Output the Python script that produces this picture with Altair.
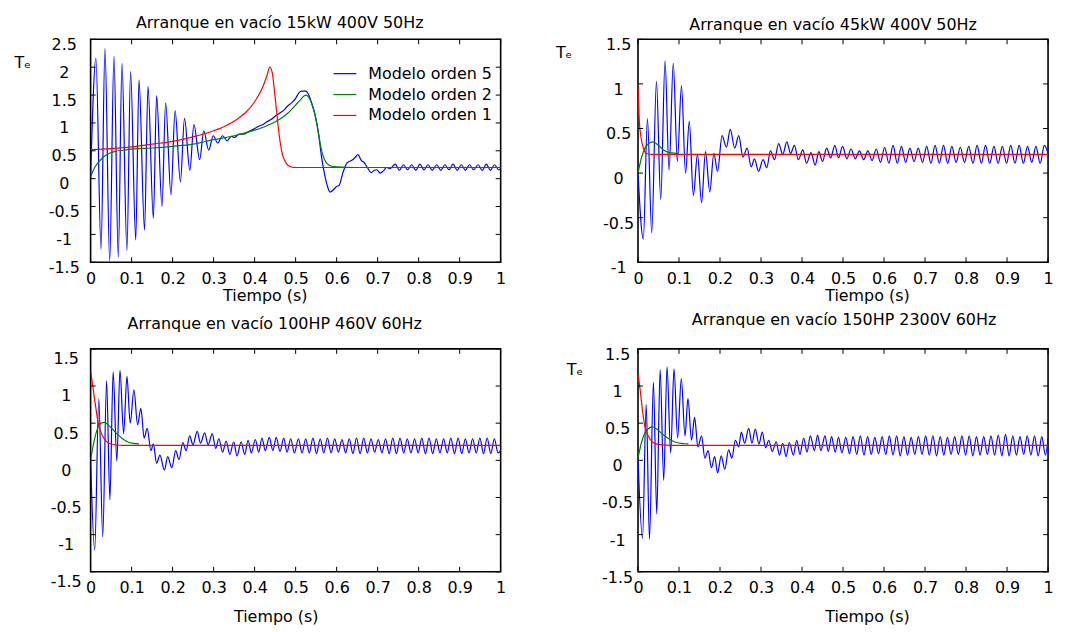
import altair as alt
import pandas as pd

FONT = "DejaVu Sans"
W, H = 412, 224
MODELS = ["Modelo orden 5", "Modelo orden 2", "Modelo orden 1"]
MODEL_COLORS = ["#0000ff", "#008000", "#ff0000"]
X_TICKS = [0, 0.1, 0.2, 0.3, 0.4, 0.5, 0.6, 0.7, 0.8, 0.9, 1]
Y_TICKS_P1 = [-1.5, -1, -0.5, 0, 0.5, 1, 1.5, 2, 2.5]
Y_TICKS_P2 = [-1, -0.5, 0, 0.5, 1, 1.5]
Y_TICKS_P34 = [-1.5, -1, -0.5, 0, 0.5, 1, 1.5]

TITLES = ["Arranque en vacío 15kW 400V 50Hz", "Arranque en vacío 45kW 400V 50Hz",
          "Arranque en vacío 100HP 460V 60Hz", "Arranque en vacío 150HP 2300V 60Hz"]

# ---------------- Panel 1: 15kW 400V 50Hz ----------------
P1_BLUE_T = [0.000, 0.013, 0.0255, 0.035, 0.0466, 0.057, 0.0675, 0.0765, 0.0886, 0.0975, 0.110, 0.118,
             0.1315, 0.140, 0.153, 0.161, 0.174, 0.183, 0.196, 0.206, 0.219, 0.229, 0.242, 0.252, 0.266,
             0.276, 0.288, 0.299, 0.310, 0.322, 0.333, 0.343, 0.352, 0.362, 0.372, 0.385, 0.400, 0.410,
             0.420, 0.430, 0.440, 0.450, 0.460, 0.470, 0.480, 0.490, 0.500, 0.508, 0.515, 0.525, 0.532,
             0.540, 0.548, 0.556, 0.563, 0.570, 0.577, 0.584, 0.592, 0.600, 0.606, 0.615, 0.625, 0.637,
             0.645, 0.652, 0.660, 0.667, 0.675, 0.684, 0.692, 0.698, 0.706, 0.714, 0.722, 0.730]
P1_BLUE_V = [0.03, 2.16, -1.27, 2.34, -1.48, 2.20, -1.41, 2.07, -1.29, 1.92, -1.10, 1.77,
             -0.92, 1.65, -0.71, 1.49, -0.50, 1.36, -0.29, 1.22, -0.06, 1.08, 0.15, 0.97, 0.34,
             0.86, 0.51, 0.77, 0.64, 0.77, 0.68, 0.76, 0.74, 0.80, 0.80, 0.84, 0.90, 0.94,
             0.97, 1.02, 1.06, 1.12, 1.17, 1.22, 1.30, 1.36, 1.44, 1.54, 1.57, 1.57, 1.50,
             1.33, 1.12, 0.80, 0.40, 0.10, -0.12, -0.24, -0.20, -0.14, -0.12, 0.10, 0.28, 0.33,
             0.38, 0.43, 0.33, 0.29, 0.20, 0.11, 0.15, 0.16, 0.10, 0.14, 0.20, 0.18]
P1_HIGH_T = [0.743, 0.763, 0.783, 0.803, 0.823, 0.844, 0.864, 0.884, 0.904, 0.924, 0.945, 0.965, 0.985]
P1_HIGH_V = [0.26, 0.25, 0.25, 0.26, 0.25, 0.25, 0.25, 0.26, 0.25, 0.25, 0.25, 0.26, 0.25]
P1_LOW_T = [0.753, 0.773, 0.793, 0.813, 0.833, 0.854, 0.874, 0.894, 0.914, 0.934, 0.955, 0.975, 0.995, 1.0]
P1_LOW_V = [0.15, 0.16, 0.15, 0.16, 0.15, 0.15, 0.16, 0.15, 0.15, 0.16, 0.15, 0.15, 0.16, 0.18]
P1_GREEN_T = [0, 0.01, 0.02, 0.03, 0.045, 0.06, 0.08, 0.1, 0.15, 0.2, 0.25, 0.3, 0.35, 0.4, 0.43, 0.46,
              0.48, 0.5, 0.51, 0.525, 0.535, 0.545, 0.555, 0.562, 0.57, 0.58, 0.59, 0.6, 0.65, 1.0]
P1_GREEN_V = [0.03, 0.2, 0.3, 0.38, 0.45, 0.49, 0.51, 0.53, 0.55, 0.58, 0.62, 0.70, 0.77, 0.87, 0.95, 1.06,
              1.17, 1.32, 1.40, 1.50, 1.42, 1.22, 0.85, 0.55, 0.35, 0.25, 0.22, 0.21, 0.2, 0.2]
P1_RED_T = [0, 0.05, 0.1, 0.15, 0.2, 0.25, 0.3, 0.33, 0.36, 0.38, 0.4, 0.41, 0.42, 0.43, 0.437, 0.443,
            0.448, 0.453, 0.458, 0.463, 0.468, 0.475, 0.483, 0.49, 0.5, 1.0]
P1_RED_V = [0.52, 0.54, 0.57, 0.62, 0.67, 0.75, 0.86, 0.95, 1.08, 1.2, 1.38, 1.5, 1.65, 1.85, 2.0, 1.9,
            1.6, 1.25, 0.9, 0.62, 0.43, 0.30, 0.23, 0.21, 0.2, 0.2]

# ---------------- Panel 2: 45kW 400V 50Hz ----------------
P2_BLUE_T = [0.000, 0.013, 0.023, 0.0335, 0.045, 0.0554, 0.066, 0.0757, 0.086, 0.096, 0.106, 0.116,
             0.125, 0.135, 0.145, 0.155, 0.1646, 0.175, 0.185, 0.194, 0.205, 0.2156, 0.225, 0.236,
             0.2456, 0.256, 0.266, 0.276, 0.284, 0.294, 0.305, 0.314, 0.323, 0.333, 0.343, 0.353,
             0.363, 0.372, 0.3815, 0.391, 0.402, 0.411, 0.422, 0.432, 0.441, 0.450, 0.460, 0.470,
             0.480, 0.489, 0.499]
P2_BLUE_V = [0.00, -0.74, 0.61, -0.67, 1.03, -0.30, 1.26, 0.03, 1.23, 0.13, 0.98, 0.00,
             0.58, -0.25, 0.21, -0.33, 0.24, -0.21, 0.22, 0.02, 0.42, 0.29, 0.49, 0.28,
             0.42, 0.18, 0.28, 0.07, 0.16, 0.02, 0.15, 0.06, 0.25, 0.15, 0.33, 0.21,
             0.35, 0.22, 0.31, 0.15, 0.26, 0.11, 0.23, 0.09, 0.24, 0.13, 0.28, 0.17,
             0.31, 0.17, 0.30]
P2_HIGH_T = [0.5195, 0.540, 0.5605, 0.581, 0.6015, 0.622, 0.6425, 0.663, 0.6835, 0.704, 0.7245, 0.745,
             0.7655, 0.786, 0.8065, 0.827, 0.8475, 0.868, 0.8885, 0.909, 0.9295, 0.950, 0.9705, 0.991]
P2_HIGH_V = [0.27, 0.25, 0.25, 0.27, 0.29, 0.31, 0.30, 0.28, 0.28, 0.30, 0.31, 0.31,
             0.30, 0.29, 0.30, 0.31, 0.31, 0.30, 0.30, 0.31, 0.31, 0.30, 0.30, 0.31]
P2_LOW_T = [0.5093, 0.5298, 0.5503, 0.5708, 0.5913, 0.6118, 0.6323, 0.6528, 0.6733, 0.6938, 0.7143,
            0.7348, 0.7553, 0.7758, 0.7963, 0.8168, 0.8373, 0.8578, 0.8783, 0.8988, 0.9193, 0.9398,
            0.9603, 0.9808, 1.0]
P2_LOW_V = [0.16, 0.16, 0.15, 0.14, 0.12, 0.11, 0.11, 0.12, 0.13, 0.12, 0.11,
            0.11, 0.11, 0.12, 0.12, 0.11, 0.11, 0.11, 0.11, 0.11, 0.11, 0.11,
            0.12, 0.11, 0.22]
P2_GREEN_T = [0, 0.009, 0.017, 0.029, 0.037, 0.05, 0.062, 0.078, 0.1]
P2_GREEN_V = [0.0, 0.18, 0.28, 0.34, 0.35, 0.31, 0.26, 0.23, 0.22]
P2_RED_T = [0, 0.0015, 0.003, 0.007, 0.013, 0.021, 0.035, 1.0]
P2_RED_V = [1.0, 0.8, 0.6, 0.41, 0.28, 0.22, 0.21, 0.21]

# ---------------- Panel 3: 100HP 460V 60Hz ----------------
P3_BLUE_T = [0.000, 0.010, 0.020, 0.0296, 0.039, 0.047, 0.055, 0.064, 0.0716, 0.0805, 0.0886, 0.0966,
             0.1056, 0.1146, 0.1226, 0.1306, 0.138, 0.147, 0.153, 0.161, 0.169, 0.180, 0.188, 0.198,
             0.2075, 0.2156, 0.225, 0.233, 0.2415, 0.2496, 0.260, 0.268, 0.278, 0.2868, 0.2966, 0.305,
             0.3127, 0.322, 0.3305, 0.3395, 0.349, 0.357, 0.367, 0.3758, 0.384, 0.392, 0.4017, 0.410,
             0.418, 0.426, 0.4357, 0.4445, 0.4527, 0.462, 0.471, 0.479, 0.488, 0.497]
P3_BLUE_V = [0.00, -1.21, 0.83, -1.03, 1.07, -0.53, 1.19, -0.01, 1.21, 0.36, 1.13, 0.50,
             0.95, 0.48, 0.70, 0.30, 0.43, 0.13, 0.22, -0.04, 0.07, -0.13, 0.05, -0.10,
             0.13, 0.01, 0.24, 0.13, 0.33, 0.21, 0.39, 0.23, 0.37, 0.21, 0.36, 0.16,
             0.29, 0.11, 0.26, 0.08, 0.25, 0.06, 0.25, 0.08, 0.27, 0.10, 0.28, 0.11,
             0.30, 0.13, 0.31, 0.13, 0.31, 0.12, 0.30, 0.11, 0.29, 0.10]
P34_HIGH_T = [0.5068, 0.5245, 0.5422, 0.5599, 0.5776, 0.5953, 0.6130, 0.6307, 0.6484, 0.6661, 0.6838,
              0.7015, 0.7192, 0.7369, 0.7546, 0.7723, 0.7900, 0.8077, 0.8254, 0.8431, 0.8608, 0.8785,
              0.8962, 0.9139, 0.9316, 0.9493, 0.9670, 0.9847]
P34_LOW_T = [0.5157, 0.5334, 0.5511, 0.5688, 0.5865, 0.6042, 0.6219, 0.6396, 0.6573, 0.6750, 0.6927,
             0.7104, 0.7281, 0.7458, 0.7635, 0.7812, 0.7989, 0.8166, 0.8343, 0.8520, 0.8697, 0.8874,
             0.9051, 0.9228, 0.9405, 0.9582, 0.9759, 0.9936, 1.0]
P3_HIGH_V = [0.29, 0.29, 0.30, 0.29, 0.30, 0.29, 0.28, 0.29, 0.30, 0.30, 0.29, 0.28, 0.29, 0.30,
             0.30, 0.29, 0.29, 0.30, 0.30, 0.29, 0.29, 0.30, 0.30, 0.29, 0.29, 0.30, 0.30, 0.29]
P3_LOW_V = [0.10, 0.10, 0.09, 0.10, 0.10, 0.11, 0.10, 0.09, 0.09, 0.10, 0.11, 0.10, 0.09, 0.09,
            0.10, 0.10, 0.10, 0.09, 0.09, 0.10, 0.10, 0.09, 0.09, 0.10, 0.10, 0.09, 0.09, 0.10, 0.13]
P3_GREEN_T = [0, 0.009, 0.017, 0.0255, 0.034, 0.046, 0.062, 0.078, 0.094, 0.118]
P3_GREEN_V = [0.01, 0.27, 0.43, 0.50, 0.51, 0.46, 0.37, 0.29, 0.24, 0.22]
P3_RED_T = [0, 0.004, 0.009, 0.013, 0.017, 0.022, 0.029, 0.036, 0.045, 0.06, 0.08, 1.0]
P3_RED_V = [1.2, 1.05, 0.85, 0.7, 0.55, 0.43, 0.33, 0.27, 0.23, 0.21, 0.2, 0.2]

# ---------------- Panel 4: 150HP 2300V 60Hz ----------------
P4_BLUE_T = [0.000, 0.011, 0.020, 0.028, 0.0376, 0.0457, 0.054, 0.0627, 0.0708, 0.0797, 0.0878, 0.0966,
             0.1056, 0.1146, 0.1218, 0.1306, 0.138, 0.146, 0.155, 0.163, 0.171, 0.179, 0.187, 0.194,
             0.203, 0.2116, 0.221, 0.229, 0.2374, 0.2456, 0.252, 0.260, 0.270, 0.278, 0.286, 0.295,
             0.303, 0.3111, 0.319, 0.3273, 0.337, 0.345, 0.353, 0.3612, 0.369, 0.379, 0.387, 0.395,
             0.404, 0.412, 0.4204, 0.430, 0.438, 0.446, 0.4559, 0.464, 0.472, 0.481, 0.489, 0.4972]
P4_BLUE_V = [0.03, -1.05, 0.75, -1.06, 1.05, -0.72, 1.22, -0.27, 1.26, 0.10, 1.23, 0.30,
             1.10, 0.33, 0.83, 0.27, 0.58, 0.18, 0.33, 0.03, 0.13, -0.10, 0.05, -0.17,
             0.06, -0.12, 0.14, 0.03, 0.27, 0.18, 0.38, 0.23, 0.43, 0.23, 0.42, 0.22,
             0.38, 0.17, 0.27, 0.12, 0.25, 0.07, 0.23, 0.05, 0.24, 0.07, 0.27, 0.08,
             0.30, 0.11, 0.33, 0.13, 0.34, 0.13, 0.33, 0.12, 0.32, 0.11, 0.31, 0.10]
P4_HIGH_V = [0.31, 0.32, 0.33, 0.32, 0.31, 0.32, 0.33, 0.33, 0.32, 0.31, 0.32, 0.33, 0.33, 0.32,
             0.31, 0.32, 0.33, 0.33, 0.32, 0.32, 0.33, 0.34, 0.35, 0.33, 0.32, 0.33, 0.33, 0.32]
P4_LOW_V = [0.09, 0.08, 0.07, 0.08, 0.09, 0.08, 0.07, 0.06, 0.07, 0.08, 0.08, 0.07, 0.06, 0.07,
            0.08, 0.08, 0.07, 0.06, 0.07, 0.08, 0.07, 0.06, 0.06, 0.07, 0.08, 0.07, 0.06, 0.07, 0.30]
P4_GREEN_T = [0, 0.009, 0.017, 0.029, 0.036, 0.046, 0.062, 0.078, 0.094, 0.1226]
P4_GREEN_V = [0.03, 0.25, 0.37, 0.44, 0.45, 0.42, 0.34, 0.28, 0.24, 0.22]
P4_RED_T = [0, 0.005, 0.011, 0.017, 0.0255, 0.037, 0.054, 0.08, 1.0]
P4_RED_V = [1.16, 0.96, 0.67, 0.45, 0.32, 0.24, 0.21, 0.2, 0.2]

LABEL_EXPR = "datum.value < 0 ? '-' + format(-datum.value, '~g') : format(datum.value, '~g')"


def blue_frame(*parts):
    ts, vs = [], []
    for t_list, v_list in parts:
        ts += list(t_list)
        vs += list(v_list)
    df = pd.DataFrame({"t": ts, "v": vs}).sort_values("t").reset_index(drop=True)
    df["modelo"] = MODELS[0]
    return df


def frame(ts, vs, name):
    return pd.DataFrame({"t": ts, "v": vs, "modelo": name})


def panel(title, dfs, y_ticks, title_dx, title_offset, ylab_pad, ylab_off,
          te, xt_dx, xt_y, show_legend):
    xs = alt.Scale(domain=[0, 1], nice=False, zero=False)
    ys = alt.Scale(domain=[y_ticks[0], y_ticks[-1]], nice=False, zero=False)
    xaxis = alt.Axis(values=X_TICKS, labelExpr=LABEL_EXPR, title="Tiempo (s)", ticks=False, tickSize=0,
                     domain=False, grid=False, labelPadding=8, labelFlush=False, labelOverlap=False,
                     titleX=W / 2 + xt_dx, titleY=xt_y, titleBaseline="middle", titleAlign="center")
    ykw = dict(values=y_ticks, labelExpr=LABEL_EXPR, ticks=False, tickSize=0, domain=False, grid=False,
               labelAlign="center", labelBaseline="middle", labelPadding=ylab_pad, labelOffset=ylab_off,
               labelFlush=False, labelOverlap=False)
    if te is not None:
        ykw.update(title="Tₑ", titleAngle=0, titleX=te[0], titleY=te[1], titleAlign="left",
                   titleBaseline="top")
    else:
        ykw.update(title=None)
    yaxis = alt.Axis(**ykw)
    cscale = alt.Scale(domain=MODELS, range=MODEL_COLORS)
    if show_legend:
        legend = alt.Legend(title=None, orient="none", legendX=243, legendY=22, symbolType="stroke",
                            symbolSize=529, symbolStrokeWidth=1.2, labelFont=FONT, labelFontSize=16,
                            labelColor="black", labelOffset=11, rowPadding=0, padding=0, labelLimit=300)
    else:
        legend = None
    layers = []
    for df in dfs:
        layers.append(
            alt.Chart(df).mark_line(interpolate="monotone", strokeWidth=1.2, clip=True).encode(
                x=alt.X("t:Q", scale=xs, axis=xaxis),
                y=alt.Y("v:Q", scale=ys, axis=yaxis),
                color=alt.Color("modelo:N", scale=cscale, legend=legend),
            )
        )
    xt = pd.DataFrame({"t": X_TICKS})
    yt = pd.DataFrame({"v": y_ticks})
    for y0, y1 in ((0, 5), (H, H - 5)):
        layers.append(alt.Chart(xt).mark_rule(color="black", strokeWidth=1).encode(
            x=alt.X("t:Q", scale=xs, axis=xaxis), y=alt.value(y0), y2=alt.value(y1)))
    for x0, x1 in ((0, 5), (W, W - 5)):
        layers.append(alt.Chart(yt).mark_rule(color="black", strokeWidth=1).encode(
            y=alt.Y("v:Q", scale=ys, axis=yaxis), x=alt.value(x0), x2=alt.value(x1)))
    return alt.layer(*layers).properties(
        width=W, height=H,
        title=alt.TitleParams(text=title, font=FONT, fontSize=16, fontWeight="normal", color="black",
                              anchor="middle", frame="group", dx=title_dx, offset=title_offset),
    )


p1 = panel(TITLES[0],
           [blue_frame((P1_BLUE_T, P1_BLUE_V), (P1_HIGH_T, P1_HIGH_V), (P1_LOW_T, P1_LOW_V)),
            frame(P1_GREEN_T, P1_GREEN_V, MODELS[1]), frame(P1_RED_T, P1_RED_V, MODELS[2])],
           Y_TICKS_P1, -16, 5, 27, 5, (-77, 15), -31, 33, True)
p2 = panel(TITLES[1],
           [blue_frame((P2_BLUE_T, P2_BLUE_V), (P2_HIGH_T, P2_HIGH_V), (P2_LOW_T, P2_LOW_V)),
            frame(P2_GREEN_T, P2_GREEN_V, MODELS[1]), frame(P2_RED_T, P2_RED_V, MODELS[2])],
           Y_TICKS_P2, -10, 4, 20, 5.5, (-83, 5), 24, 33, False)
p3 = panel(TITLES[2],
           [blue_frame((P3_BLUE_T, P3_BLUE_V), (P34_HIGH_T, P3_HIGH_V), (P34_LOW_T, P3_LOW_V)),
            frame(P3_GREEN_T, P3_GREEN_V, MODELS[1]), frame(P3_RED_T, P3_RED_V, MODELS[2])],
           Y_TICKS_P34, -21, 16, 25, 10, None, -20, 45, False)
p4 = panel(TITLES[3],
           [blue_frame((P4_BLUE_T, P4_BLUE_V), (P34_HIGH_T, P4_HIGH_V), (P34_LOW_T, P4_LOW_V)),
            frame(P4_GREEN_T, P4_GREEN_V, MODELS[1]), frame(P4_RED_T, P4_RED_V, MODELS[2])],
           Y_TICKS_P34, 1, 18, 21, 5.5, (-72, 13), 24, 45, False)

chart = (
    alt.concat(p1, p2, p3, p4, columns=2, spacing={"row": 87, "column": 138}, bounds="flush")
    .resolve_scale(color="independent", x="independent", y="independent")
    .resolve_legend(color="independent")
    .properties(padding={"left": 5, "top": 5, "right": 5, "bottom": 0}, background="white")
    .configure_axis(labelFont=FONT, labelFontSize=16, titleFont=FONT, titleFontSize=16,
                    titleFontWeight="normal", labelColor="black", titleColor="black")
    .configure_view(stroke="black", strokeWidth=1.6)
)

chart.save("out.html", embed_options={"renderer": "svg", "actions": False})
